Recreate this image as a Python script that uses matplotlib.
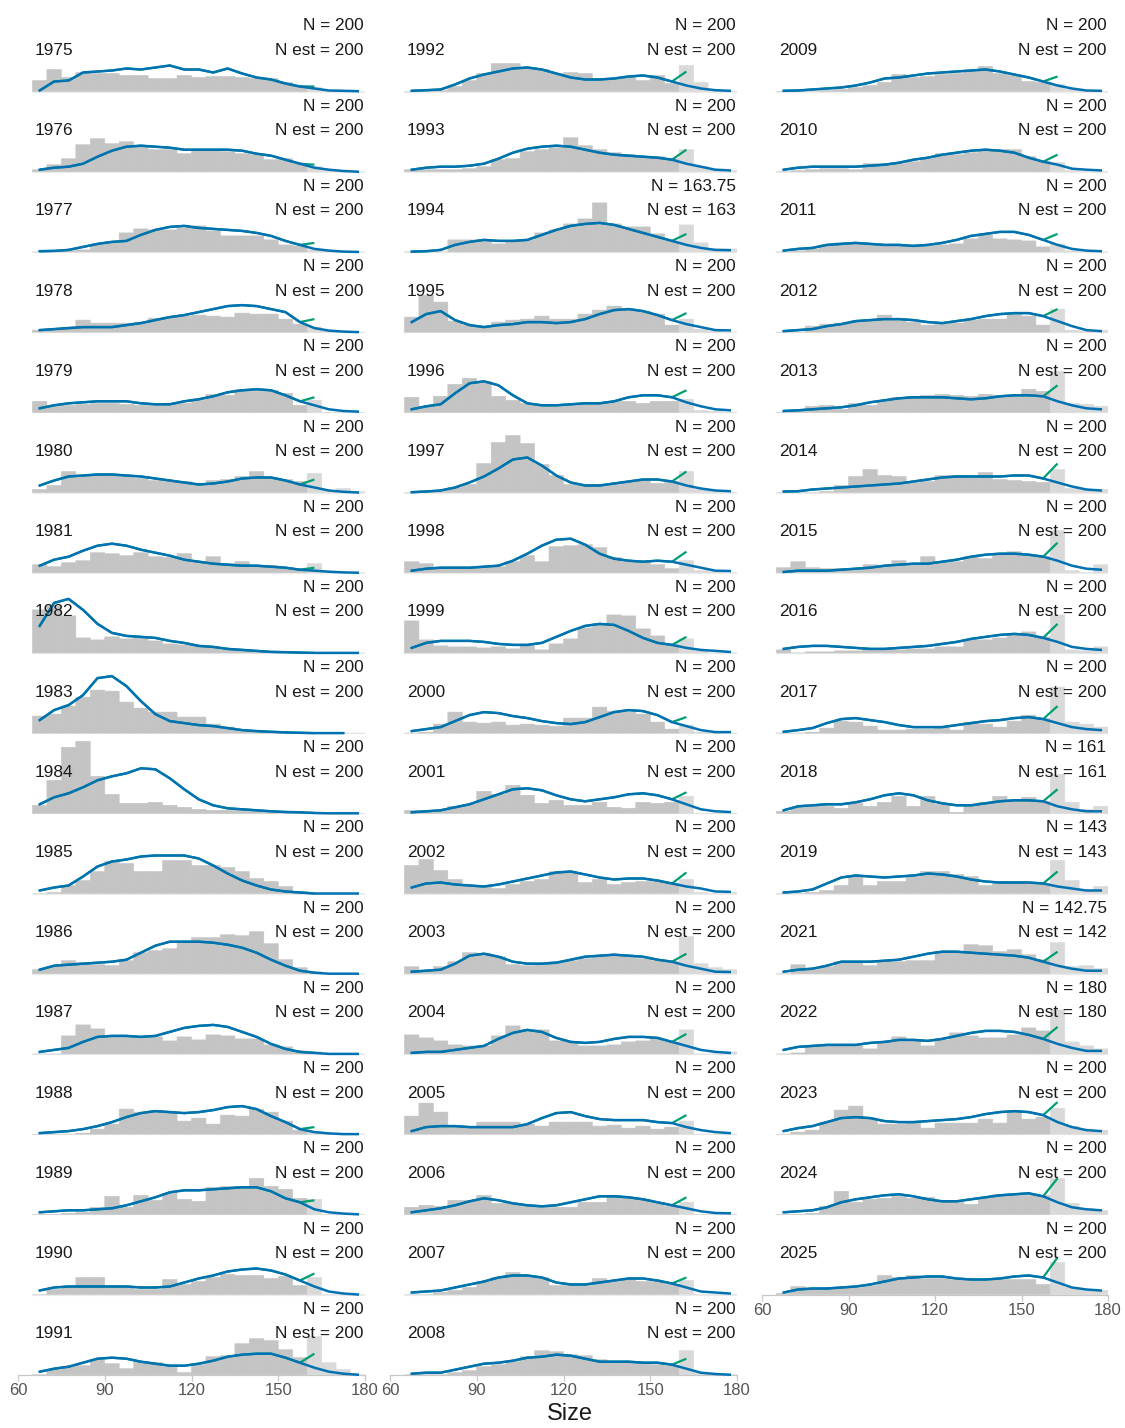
import numpy as np
import matplotlib.pyplot as plt

plt.rcParams['font.family'] = ['Liberation Sans', 'DejaVu Sans']

# survey years, one small panel each (no 2020 survey)
years = list(range(1975, 2020)) + list(range(2021, 2026))
n_obs = ["200"] * 50
n_est = ["200"] * 50
n_obs[years.index(1994)], n_est[years.index(1994)] = "163.75", "163"
n_obs[years.index(2018)], n_est[years.index(2018)] = "161", "161"
n_obs[years.index(2019)], n_est[years.index(2019)] = "143", "143"
n_obs[years.index(2021)], n_est[years.index(2021)] = "142.75", "142"
n_obs[years.index(2022)], n_est[years.index(2022)] = "180", "180"

# 5 cm size classes from 65 to 180
bin_edges = np.arange(65, 181, 5)
bin_mids = bin_edges[:-1] + 2.5

# observed size-class density (relative units), one row per year
hist_dens = [
    [11, 22, 14, 19, 18, 18, 16, 16, 13, 13, 16, 14, 15, 15, 14, 13, 13, 9, 6, 4, 1, 0, 0],
    [2, 7, 13, 27, 33, 28, 30, 25, 22, 22, 18, 22, 22, 20, 18, 17, 12, 13, 8, 5, 1, 0, 0],
    [0, 0, 1, 2, 7, 9, 19, 23, 22, 22, 24, 26, 21, 16, 16, 16, 12, 7, 6, 2, 1, 0, 0],
    [2, 3, 5, 12, 9, 9, 9, 10, 14, 15, 16, 17, 16, 15, 19, 18, 18, 13, 8, 5, 1, 0, 0],
    [11, 6, 7, 8, 9, 9, 8, 7, 7, 9, 9, 12, 18, 17, 23, 21, 22, 19, 7, 12, 0, 0, 0],
    [3, 7, 21, 17, 17, 17, 16, 14, 12, 11, 11, 9, 12, 13, 16, 21, 15, 13, 11, 19, 2, 4, 1],
    [8, 6, 10, 12, 20, 19, 17, 20, 16, 15, 19, 11, 16, 9, 11, 7, 7, 5, 4, 9, 1, 0, 0],
    [43, 47, 37, 15, 13, 16, 14, 15, 12, 9, 8, 7, 5, 3, 3, 2, 1, 0, 0, 0, 0, 0, 0],
    [17, 19, 27, 36, 43, 42, 31, 25, 21, 21, 16, 16, 9, 6, 3, 2, 1, 0, 0, 0, 0, 0, 0],
    [8, 33, 66, 72, 37, 19, 10, 10, 11, 8, 6, 4, 3, 3, 3, 2, 1, 0, 0, 0, 0, 0, 0],
    [0, 1, 8, 13, 22, 32, 30, 22, 22, 33, 33, 28, 28, 26, 22, 15, 12, 7, 2, 0, 0, 0, 0],
    [4, 7, 13, 11, 9, 8, 13, 21, 23, 25, 32, 36, 36, 39, 38, 42, 30, 14, 6, 2, 0, 0, 0],
    [0, 0, 18, 29, 25, 17, 17, 17, 17, 13, 17, 14, 19, 18, 15, 15, 9, 7, 3, 2, 0, 0, 0],
    [0, 0, 0, 1, 5, 10, 25, 22, 23, 21, 13, 16, 10, 19, 18, 25, 22, 13, 4, 3, 0, 0, 0],
    [0, 0, 1, 2, 7, 18, 7, 19, 14, 21, 15, 13, 27, 28, 28, 36, 28, 25, 16, 15, 0, 0, 0],
    [0, 5, 8, 17, 17, 8, 7, 5, 5, 15, 10, 13, 17, 20, 19, 19, 16, 18, 9, 17, 0, 0, 0],
    [0, 5, 8, 9, 15, 11, 6, 13, 12, 8, 2, 10, 18, 19, 31, 36, 34, 25, 17, 38, 12, 5, 0],
    [0, 0, 1, 5, 11, 18, 28, 28, 23, 22, 18, 19, 18, 13, 13, 15, 11, 16, 8, 26, 9, 1, 0],
    [2, 2, 2, 2, 3, 5, 12, 13, 20, 22, 24, 34, 26, 22, 19, 17, 15, 15, 13, 22, 5, 2, 1],
    [0, 0, 0, 12, 12, 12, 8, 11, 12, 19, 22, 28, 33, 49, 28, 25, 25, 18, 11, 27, 9, 3, 3],
    [15, 37, 30, 11, 7, 6, 10, 12, 13, 16, 13, 13, 18, 22, 26, 23, 21, 18, 7, 13, 3, 1, 0],
    [15, 6, 16, 28, 34, 31, 16, 12, 9, 7, 7, 7, 9, 9, 11, 11, 9, 11, 11, 13, 2, 1, 0],
    [0, 0, 1, 5, 8, 29, 50, 57, 49, 28, 17, 8, 7, 8, 8, 11, 12, 9, 11, 21, 3, 2, 0],
    [11, 9, 4, 5, 5, 5, 6, 11, 17, 11, 26, 27, 28, 25, 15, 11, 11, 8, 4, 12, 2, 1, 0],
    [32, 13, 7, 6, 6, 5, 6, 4, 7, 3, 9, 14, 25, 29, 38, 37, 24, 17, 9, 14, 2, 0, 0],
    [0, 1, 9, 21, 11, 10, 11, 8, 9, 8, 7, 15, 15, 26, 22, 21, 19, 11, 4, 8, 1, 0, 0],
    [3, 2, 3, 7, 9, 22, 19, 28, 18, 10, 13, 8, 8, 11, 6, 5, 11, 10, 11, 17, 0, 0, 0],
    [28, 34, 23, 14, 7, 7, 5, 9, 12, 14, 22, 21, 11, 14, 9, 11, 12, 12, 10, 14, 1, 0, 1],
    [7, 2, 7, 12, 21, 20, 17, 9, 8, 9, 12, 13, 15, 17, 18, 18, 15, 13, 12, 37, 10, 6, 4],
    [19, 16, 13, 9, 8, 8, 18, 28, 24, 24, 13, 12, 8, 8, 9, 12, 13, 15, 12, 24, 0, 0, 2],
    [18, 31, 22, 7, 7, 12, 12, 12, 10, 8, 12, 12, 12, 8, 9, 6, 8, 5, 7, 13, 0, 0, 0],
    [7, 9, 8, 14, 14, 19, 11, 11, 8, 8, 7, 7, 12, 12, 19, 17, 15, 12, 8, 12, 0, 0, 0],
    [0, 0, 2, 4, 7, 13, 17, 22, 19, 17, 9, 9, 9, 16, 13, 15, 13, 13, 10, 14, 0, 0, 0],
    [0, 0, 0, 2, 4, 8, 10, 13, 18, 24, 23, 20, 19, 15, 13, 12, 12, 10, 9, 24, 2, 1, 0],
    [0, 0, 0, 1, 2, 4, 6, 9, 17, 14, 15, 17, 18, 20, 25, 18, 16, 10, 9, 7, 2, 1, 0],
    [0, 1, 2, 3, 3, 2, 8, 8, 8, 10, 13, 18, 17, 19, 22, 22, 22, 15, 10, 9, 1, 0, 0],
    [0, 1, 3, 7, 9, 8, 7, 7, 6, 6, 6, 7, 8, 13, 17, 13, 12, 11, 5, 8, 1, 0, 0],
    [0, 0, 6, 8, 9, 11, 12, 17, 12, 10, 7, 8, 9, 12, 13, 13, 18, 16, 7, 23, 2, 1, 2],
    [0, 2, 6, 7, 3, 9, 7, 12, 15, 16, 17, 18, 17, 16, 18, 17, 17, 23, 21, 41, 9, 8, 6],
    [0, 0, 0, 1, 7, 16, 23, 17, 16, 10, 11, 17, 17, 15, 20, 13, 12, 11, 10, 23, 4, 3, 3],
    [5, 11, 5, 4, 4, 4, 8, 7, 12, 9, 16, 11, 11, 16, 14, 18, 21, 17, 16, 42, 2, 0, 8],
    [3, 0, 1, 1, 2, 2, 3, 3, 3, 4, 4, 6, 6, 13, 13, 15, 18, 21, 16, 38, 3, 2, 6],
    [0, 0, 1, 5, 12, 11, 7, 3, 3, 4, 4, 5, 3, 11, 9, 6, 12, 18, 15, 46, 11, 9, 6],
    [2, 6, 8, 7, 5, 10, 7, 11, 17, 7, 17, 9, 1, 8, 11, 17, 13, 16, 12, 39, 11, 4, 7],
    [0, 0, 1, 3, 8, 17, 8, 12, 12, 17, 22, 22, 19, 17, 8, 12, 10, 10, 10, 33, 13, 4, 7],
    [0, 9, 4, 7, 12, 12, 8, 12, 12, 13, 13, 22, 22, 29, 28, 22, 24, 19, 14, 31, 7, 8, 5],
    [0, 1, 7, 8, 8, 8, 5, 12, 17, 13, 8, 14, 21, 18, 16, 16, 19, 26, 23, 44, 12, 8, 5],
    [0, 2, 4, 12, 24, 28, 16, 10, 10, 11, 6, 11, 11, 11, 15, 11, 23, 15, 17, 26, 8, 5, 4],
    [0, 0, 1, 8, 23, 12, 15, 16, 18, 16, 17, 13, 12, 10, 16, 20, 19, 19, 19, 36, 11, 6, 4],
    [1, 8, 6, 6, 7, 7, 9, 19, 17, 19, 16, 16, 15, 15, 14, 15, 15, 15, 10, 32, 7, 4, 4],
]

# fitted density at the class mid-points
fit_dens = [
    [1, 10, 11, 19, 20, 21, 23, 22, 24, 26, 22, 22, 19, 23, 18, 14, 12, 8, 5, 3, 1, 0.7, 0.3],
    [2, 4, 5, 8, 15, 21, 25, 26, 25, 24, 22, 22, 22, 22, 21, 18, 16, 12, 8, 4, 2, 0.7, 0],
    [0.7, 1, 2, 5, 8, 10, 11, 17, 22, 25, 26, 24, 23, 22, 21, 19, 16, 11, 7, 3, 1.3, 0.3, 0],
    [2, 3, 4, 5, 5, 5, 7, 9, 12, 15, 17, 20, 23, 26, 27, 26, 23, 20, 10, 4, 1.5, 0.5, 0],
    [4, 7, 9, 10, 11, 11, 11, 9, 8, 8, 11, 13, 16, 20, 22, 23, 22, 17, 11, 7, 3, 1.3, 0.7],
    [7, 12, 16, 17, 18, 18, 17, 16, 14, 12, 10, 8, 9, 11, 14, 15, 15, 12, 8, 5, 2, 0.7, 0],
    [7, 13, 16, 22, 27, 29, 27, 23, 20, 17, 13, 11, 9, 8, 7, 7, 6, 5, 3, 2, 1, 0.3, 0],
    [27, 50, 54, 43, 29, 20, 17, 16, 15, 12, 10, 7, 6, 4, 3, 2, 1, 0.7, 0.3, 0, 0, 0, 0],
    [13, 23, 28, 38, 55, 57, 47, 32, 19, 12, 10, 8, 7, 5, 3, 2, 1.3, 0.7, 0.3, 0, 0, 0, np.nan],
    [9, 16, 20, 26, 33, 37, 40, 45, 44, 35, 24, 14, 8, 5, 4, 3, 2, 1.3, 1, 0.3, 0, 0, 0],
    [3, 6, 8, 17, 27, 32, 34, 37, 38, 38, 38, 35, 28, 20, 13, 8, 4, 2, 1, 0, 0, 0, 0],
    [4, 8, 9, 10, 11, 12, 14, 21, 28, 32, 32, 32, 31, 29, 26, 21, 14, 8, 3, 1, 0, 0, 0],
    [2, 4, 6, 12, 17, 18, 18, 17, 18, 22, 26, 28, 29, 27, 22, 17, 10, 5, 2, 1, 0, 0, 0],
    [1, 2, 3, 5, 8, 12, 17, 21, 23, 22, 21, 22, 24, 27, 28, 25, 18, 12, 5, 2, 0.7, 0, 0],
    [2, 3, 4, 4, 5, 6, 9, 13, 17, 22, 24, 24, 25, 26, 27, 27, 23, 16, 12, 5, 2, 0.7, 0],
    [4, 7, 8, 8, 8, 8, 8, 7, 7, 8, 12, 16, 19, 23, 25, 26, 24, 20, 14, 8, 3, 1, 0],
    [3, 6, 8, 12, 16, 17, 16, 13, 11, 9, 9, 11, 14, 18, 20, 21, 21, 17, 12, 7, 3, 1, 0],
    [0.7, 1.3, 2, 7, 13, 17, 20, 23, 24, 22, 18, 14, 12, 12, 13, 15, 16, 14, 10, 6, 3, 1.3, 0.7],
    [2, 4, 5, 5, 6, 8, 13, 19, 23, 25, 26, 25, 22, 19, 17, 16, 15, 14, 12, 8, 5, 2, 1.3],
    [0.3, 0.7, 2, 7, 10, 12, 11, 11, 12, 17, 22, 26, 28, 29, 27, 23, 19, 15, 11, 7, 4, 2, 1.7],
    [10, 18, 21, 12, 7, 5, 7, 8, 10, 10, 9, 10, 13, 18, 22, 23, 21, 17, 12, 8, 5, 2, 1.7],
    [3, 6, 8, 19, 29, 31, 27, 17, 9, 7, 7, 8, 9, 9, 11, 15, 17, 17, 15, 10, 6, 3, 2],
    [0.3, 1, 2, 5, 10, 16, 24, 33, 35, 27, 17, 10, 7, 7, 9, 11, 13, 13, 11, 7, 4, 2, 1.3],
    [2, 4, 5, 5, 5, 6, 7, 12, 19, 27, 33, 34, 28, 19, 14, 12, 11, 12, 11, 8, 5, 2, 1.7],
    [5, 10, 12, 12, 12, 11, 9, 8, 8, 10, 16, 22, 27, 29, 28, 22, 15, 10, 8, 5, 3, 2, 1],
    [2, 4, 6, 12, 18, 21, 20, 17, 15, 12, 10, 9, 11, 16, 21, 23, 22, 18, 11, 7, 3, 1, 1],
    [1, 2, 3, 6, 9, 14, 19, 24, 25, 23, 18, 14, 12, 14, 16, 19, 20, 18, 14, 9, 4, 2, 1.3],
    [6, 10, 11, 9, 8, 7, 9, 12, 15, 18, 21, 22, 19, 16, 14, 15, 15, 13, 10, 7, 5, 2, 1.7],
    [2, 3, 4, 10, 18, 20, 17, 12, 10, 10, 11, 14, 17, 18, 19, 18, 17, 14, 12, 8, 5, 2, 1.7],
    [1, 2, 2, 4, 6, 8, 15, 21, 24, 22, 16, 12, 11, 12, 15, 17, 17, 16, 12, 8, 4, 2, 1],
    [3, 7, 8, 8, 7, 7, 7, 7, 10, 16, 21, 22, 18, 15, 14, 14, 14, 12, 11, 7, 4, 2, 1],
    [2, 4, 6, 9, 13, 16, 14, 11, 9, 8, 9, 12, 15, 18, 18, 17, 15, 12, 9, 6, 3, 1.3, 1],
    [2, 3, 4, 7, 10, 13, 17, 19, 19, 17, 12, 10, 10, 12, 14, 16, 16, 14, 11, 7, 3, 2, 1],
    [1, 2, 2, 5, 8, 11, 12, 14, 17, 18, 20, 19, 16, 13, 13, 13, 12, 12, 10, 6, 2, 0.7, 0],
    [0.7, 1, 2, 3, 4, 6, 9, 13, 14, 16, 18, 19, 20, 21, 22, 20, 17, 14, 10, 6, 3, 1, 0.7],
    [2, 4, 5, 5, 5, 5, 6, 7, 9, 12, 14, 17, 19, 21, 22, 21, 19, 14, 10, 7, 3, 2, 1.3],
    [1.3, 3, 4, 7, 8, 9, 8, 7, 7, 6, 7, 9, 12, 16, 18, 20, 20, 17, 12, 7, 3, 1.3, 0.7],
    [1, 2, 3, 6, 8, 11, 12, 13, 13, 12, 10, 9, 11, 13, 16, 18, 19, 19, 16, 11, 6, 2, 1],
    [1.3, 2, 3, 4, 5, 7, 10, 12, 14, 15, 15, 15, 14, 13, 14, 16, 17, 17, 16, 11, 7, 4, 3],
    [1, 1.3, 3, 4, 5, 6, 7, 8, 9, 11, 13, 15, 16, 16, 16, 16, 17, 17, 14, 10, 6, 3, 2],
    [0.7, 2, 2, 2, 3, 4, 5, 7, 8, 9, 9, 11, 13, 16, 18, 19, 19, 18, 16, 12, 7, 4, 3],
    [4, 6, 7, 7, 6, 5, 4, 4, 5, 6, 7, 9, 11, 14, 16, 18, 19, 18, 15, 11, 6, 4, 3],
    [1.3, 3, 5, 10, 14, 15, 13, 11, 8, 6, 6, 6, 8, 10, 12, 13, 15, 16, 14, 10, 6, 4, 3],
    [3, 7, 8, 9, 9, 11, 14, 18, 20, 18, 13, 10, 8, 8, 10, 12, 13, 13, 12, 7, 4, 2, 2],
    [1, 2, 4, 10, 16, 18, 17, 16, 17, 18, 20, 19, 17, 14, 12, 11, 11, 11, 10, 7, 5, 3, 3],
    [2, 4, 5, 8, 12, 12, 12, 13, 14, 17, 20, 22, 22, 21, 20, 19, 18, 16, 12, 8, 5, 3, 3],
    [4, 7, 8, 9, 9, 9, 11, 12, 14, 14, 13, 15, 18, 21, 23, 23, 22, 19, 15, 10, 6, 3, 3],
    [3, 6, 8, 12, 16, 17, 16, 13, 12, 12, 13, 14, 15, 17, 20, 22, 23, 22, 19, 12, 7, 4, 3],
    [2, 3, 4, 7, 12, 15, 17, 19, 20, 18, 15, 13, 13, 15, 17, 19, 20, 21, 18, 12, 7, 5, 4],
    [2, 5, 6, 6, 7, 8, 10, 13, 16, 17, 18, 18, 16, 15, 15, 16, 18, 19, 17, 12, 7, 5, 4],
]

# estimated density in the 160-165 class (end of the estimated curve)
tail_dens = [
    5, 7, 9, 13, 15, 13, 5, 0, 0, 0.3, 0, 1, 1, 7, 14, 21, 21,
    20, 22, 18, 19, 22, 21, 21, 16, 16, 21, 21, 20, 20, 19, 17, 17, 16,
    15, 17, 18, 23, 27, 29, 30, 29, 27, 24, 22, 22, 27, 32, 36, 37,
]

bar_dark = '#c4c4c4'
bar_light = '#d9d9d9'
blue = '#0072B2'
green = '#009E73'
text_col = '#1a1a1a'

W, H = 1125, 1428
col_left = [18, 390, 762]
col_width = [347, 347, 346]
row_step = 80.2
first_base = 91.5
per_col = 17

fig = plt.figure(figsize=(W / 100, H / 100), dpi=100)

for i, year in enumerate(years):
    col, row = divmod(i, per_col)
    base = first_base + row * row_step
    ax = fig.add_axes([col_left[col] / W, (H - base - 2) / H,
                       col_width[col] / W, row_step / H])
    ax.set_xlim(60, 180)
    ax.set_ylim(-2, row_step - 2)

    colors = [bar_light if e >= 160 else bar_dark for e in bin_edges[:-1]]
    bars = ax.bar(bin_edges[:-1], hist_dens[i], width=5, align='edge',
                  color=colors, edgecolor=colors, linewidth=0.4, zorder=1)
    for b in bars:
        b.set_snap(False)

    fit = np.array(fit_dens[i], dtype=float)
    est = np.append(fit[:19], tail_dens[i])
    ax.plot(bin_mids[:20], est, color=green, lw=1.6, zorder=2,
            solid_capstyle='butt')
    ax.plot(bin_mids, fit, color=blue, lw=1.8, zorder=3)

    ax.text(179.5, 65.5, f"N = {n_obs[i]}", ha='right', va='center',
            fontsize=12.4, color=text_col)
    ax.text(179.5, 41, f"N est = {n_est[i]}", ha='right', va='center',
            fontsize=12.4, color=text_col)
    ax.text(65.8, 41, str(year), ha='left', va='center',
            fontsize=12.4, color=text_col)

    for side in ['left', 'right', 'top']:
        ax.spines[side].set_visible(False)
    ax.set_yticks([])
    ax.patch.set_alpha(0)

    last_in_col = (i == len(years) - 1) or (row == per_col - 1)
    if last_in_col:
        ax.spines['bottom'].set_position(('data', 0))
        ax.spines['bottom'].set_color('#c8c8c8')
        ax.spines['bottom'].set_linewidth(0.9)
        ax.set_xticks([60, 90, 120, 150, 180])
        ax.tick_params(axis='x', colors='#c8c8c8', length=4, width=0.9,
                       labelcolor='#555555', labelsize=12, pad=2)
    else:
        ax.spines['bottom'].set_visible(False)
        ax.set_xticks([])
        ax.plot([65, 180], [0, 0], color='#ebebeb', lw=0.8, zorder=0)

fig.text(570 / W, 1 - 1414 / H, "Size", ha='center', va='center',
         fontsize=17, color=text_col)

fig.savefig('out.png', dpi=100)
